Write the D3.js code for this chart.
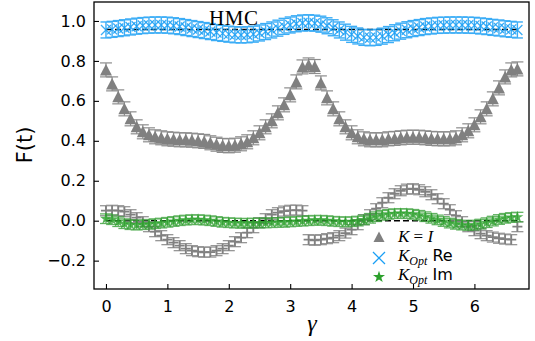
<!DOCTYPE html>
<html><head><meta charset="utf-8">
<script src="https://cdn.jsdelivr.net/npm/d3@7"></script>
<style>body{margin:0;background:#fff}svg{display:block}</style>
</head><body><svg id="c" width="535" height="341"></svg>
<script>
const gamma = [0.0,0.1,0.2,0.3,0.4,0.5,0.6,0.7,0.8,0.9,1.0,1.1,1.2,1.3,1.4,1.5,1.6,1.7,1.8,1.9,2.0,2.1,2.2,2.3,2.4,2.5,2.6,2.7,2.8,2.9,3.0,3.1,3.2,3.3,3.4,3.5,3.6,3.7,3.8,3.9,4.0,4.1,4.2,4.3,4.4,4.5,4.6,4.7,4.8,4.9,5.0,5.1,5.2,5.3,5.4,5.5,5.6,5.7,5.8,5.9,6.0,6.1,6.2,6.3,6.4,6.5,6.6,6.7];
const reIdentity = [0.755,0.685,0.62,0.56,0.51,0.47,0.445,0.43,0.42,0.415,0.41,0.408,0.405,0.405,0.403,0.4,0.397,0.39,0.383,0.377,0.375,0.378,0.385,0.395,0.415,0.44,0.47,0.5,0.54,0.58,0.63,0.695,0.77,0.78,0.772,0.69,0.615,0.56,0.51,0.47,0.44,0.42,0.41,0.405,0.405,0.405,0.41,0.412,0.415,0.418,0.418,0.418,0.415,0.412,0.41,0.41,0.41,0.415,0.43,0.45,0.48,0.52,0.56,0.61,0.665,0.72,0.755,0.76];
const imIdentity = [0.05,0.052,0.05,0.045,0.03,0.015,-0.005,-0.03,-0.055,-0.075,-0.095,-0.11,-0.125,-0.14,-0.15,-0.155,-0.158,-0.157,-0.15,-0.14,-0.125,-0.105,-0.085,-0.06,-0.035,-0.01,0.01,0.03,0.04,0.048,0.052,0.053,0.05,-0.095,-0.098,-0.095,-0.09,-0.085,-0.075,-0.062,-0.045,-0.02,0.005,0.03,0.06,0.09,0.115,0.135,0.15,0.158,0.16,0.155,0.145,0.13,0.11,0.085,0.055,0.025,-0.005,-0.03,-0.05,-0.065,-0.075,-0.082,-0.088,-0.092,-0.095,-0.03];
const reOpt = [0.955,0.958,0.962,0.966,0.97,0.974,0.977,0.979,0.98,0.98,0.979,0.976,0.972,0.967,0.962,0.957,0.952,0.947,0.942,0.938,0.934,0.931,0.93,0.931,0.934,0.94,0.947,0.955,0.964,0.973,0.98,0.986,0.99,0.991,0.989,0.984,0.976,0.966,0.955,0.944,0.933,0.925,0.918,0.916,0.918,0.924,0.932,0.941,0.949,0.956,0.962,0.967,0.972,0.975,0.978,0.979,0.98,0.98,0.98,0.979,0.978,0.975,0.972,0.968,0.965,0.961,0.958,0.955];
const imOpt = [0.01,0.005,-0.005,-0.015,-0.02,-0.022,-0.02,-0.018,-0.015,-0.012,-0.008,-0.004,0.0,0.003,0.005,0.005,0.003,0.0,-0.004,-0.008,-0.01,-0.012,-0.013,-0.013,-0.012,-0.012,-0.011,-0.01,-0.009,-0.008,-0.006,-0.004,-0.002,0.0,0.002,0.002,0.0,-0.003,-0.005,-0.006,-0.005,-0.002,0.004,0.012,0.02,0.027,0.032,0.035,0.036,0.035,0.032,0.027,0.02,0.012,0.004,-0.004,-0.012,-0.018,-0.022,-0.024,-0.022,-0.017,-0.01,-0.002,0.006,0.012,0.016,0.018];
const errIdentity = 0.035, errIdentityIm = 0.025, errOptRe = 0.04, errOptIm = 0.024;
const hmcValues = [0.957, 0.0];
const xTicks = [0,1,2,3,4,5,6];
const yTicks = [-0.2,0.0,0.2,0.4,0.6,0.8,1.0];

const svg = d3.select("#c");
const L=94,R=529,T=2,B=289;
const x = d3.scaleLinear().domain([-0.195,6.889]).range([L,R]);
const y = d3.scaleLinear().domain([-0.342,1.095]).range([B,T]);

svg.selectAll("line.hmc").data(hmcValues).join("line")
  .attr("x1",x(gamma[0])).attr("x2",x(gamma[gamma.length-1]))
  .attr("y1",d=>y(d)).attr("y2",d=>y(d))
  .attr("stroke","#000").attr("stroke-width",1.6).attr("stroke-dasharray","6,3");

function errbars(vals, err, color, cap, sw, op){
  const gg = svg.append("g").attr("stroke",color).attr("stroke-width",sw).attr("opacity",op).attr("fill","none");
  vals.forEach((v,i)=>{
    const cx=x(gamma[i]), y1=y(v-err), y2=y(v+err);
    gg.append("line").attr("x1",cx).attr("x2",cx).attr("y1",y1).attr("y2",y2);
    gg.append("line").attr("x1",cx-cap).attr("x2",cx+cap).attr("y1",y1).attr("y2",y1);
    gg.append("line").attr("x1",cx-cap).attr("x2",cx+cap).attr("y1",y2).attr("y2",y2);
  });
}

// K = I real (triangles)
errbars(reIdentity, errIdentity, "#8c8c8c", 6, 1.2, 1);
svg.append("g").selectAll("path").data(reIdentity).join("path")
  .attr("d","M0,-6L6,5.5L-6,5.5Z")
  .attr("transform",(d,i)=>`translate(${x(gamma[i])},${y(d)})`)
  .attr("fill","#808080");

// K = I imaginary
errbars(imIdentity, errIdentityIm, "#8c8c8c", 6, 1.3, 0.9);
svg.append("g").selectAll("path").data(imIdentity).join("path")
  .attr("d","M-5,0H5M0,-5V5")
  .attr("transform",(d,i)=>`translate(${x(gamma[i])},${y(d)})`)
  .attr("stroke","#808080").attr("stroke-width",1.8);

// K_Opt Im (green stars)
errbars(imOpt, errOptIm, "#3aa03a", 6, 1.3, 0.8);
const star = d3.symbol().type(d3.symbolStar).size(45);
svg.append("g").selectAll("path").data(imOpt).join("path")
  .attr("d",star())
  .attr("transform",(d,i)=>`translate(${x(gamma[i])},${y(d)})`)
  .attr("fill","#2ca02c").attr("opacity",0.8);

// K_Opt Re (blue crosses)
errbars(reOpt, errOptRe, "#1a9ff5", 5.5, 1.4, 0.85);
svg.append("g").selectAll("path").data(reOpt).join("path")
  .attr("d","M-5,-5L5,5M-5,5L5,-5")
  .attr("transform",(d,i)=>`translate(${x(gamma[i])},${y(d)})`)
  .attr("stroke","#1a9ff5").attr("stroke-width",1.3).attr("opacity",0.85);

// axes
const ax = svg.append("g").attr("transform",`translate(0,${B})`)
  .call(d3.axisBottom(x).tickValues(xTicks).tickFormat(d3.format("d")).tickSize(-5).tickPadding(11.5));
const ay = svg.append("g").attr("transform",`translate(${L},0)`)
  .call(d3.axisLeft(y).tickValues(yTicks).tickFormat(d=>d3.format(".1f")(d).replace("-","\u2212")).tickSize(-5).tickPadding(8));
[ax,ay].forEach(a=>{
  a.select(".domain").remove();
  a.selectAll("text").attr("font-family","DejaVu Sans").attr("font-size",16).attr("fill","#000");
  a.selectAll("line").attr("stroke","#000").attr("stroke-width",1.1);
});
svg.append("rect").attr("x",L).attr("y",T).attr("width",R-L).attr("height",B-T)
  .attr("fill","none").attr("stroke","#000").attr("stroke-width",1.3);

// labels
svg.append("text").attr("transform","translate(32,145) rotate(-90)").attr("text-anchor","middle")
  .attr("font-family","DejaVu Sans").attr("font-size",21).text("F(t)");
svg.append("text").attr("x",312).attr("y",331).attr("text-anchor","middle")
  .attr("font-family","Liberation Serif").attr("font-style","italic").attr("font-size",24).text("γ");
svg.append("text").attr("x",209).attr("y",25)
  .attr("font-family","Liberation Serif").attr("font-size",21).attr("letter-spacing",0.6).text("HMC");

// legend
const lg = svg.append("g");
const rowsY = [242, 261, 280];
lg.append("path").attr("d","M0,-5.5L5.5,5L-5.5,5Z").attr("transform",`translate(379,${rowsY[0]-5})`).attr("fill","#808080");
lg.append("path").attr("d","M-6,-6L6,6M-6,6L6,-6").attr("transform",`translate(379,${rowsY[1]-3})`).attr("stroke","#1a9ff5").attr("stroke-width",1.3);
lg.append("path").attr("d",star()).attr("transform",`translate(379,${rowsY[2]-3})`).attr("fill","#2ca02c");
const t1 = lg.append("text").attr("x",398).attr("y",rowsY[0]).attr("font-family","Liberation Serif").attr("font-size",17);
t1.append("tspan").attr("font-style","italic").text("K");
t1.append("tspan").text(" = ");
t1.append("tspan").attr("font-style","italic").text("I");
[["Re",rowsY[1]],["Im",rowsY[2]]].forEach(([lab,by])=>{
  const t = lg.append("text").attr("x",398).attr("y",by).attr("font-family","Liberation Serif").attr("font-size",17);
  t.append("tspan").attr("font-style","italic").text("K");
  t.append("tspan").attr("font-style","italic").attr("font-size",12).attr("dy",4).text("Opt");
  t.append("tspan").attr("dy",-4).attr("font-family","DejaVu Sans").attr("font-size",16).text(" "+lab);
});
</script></body></html>
